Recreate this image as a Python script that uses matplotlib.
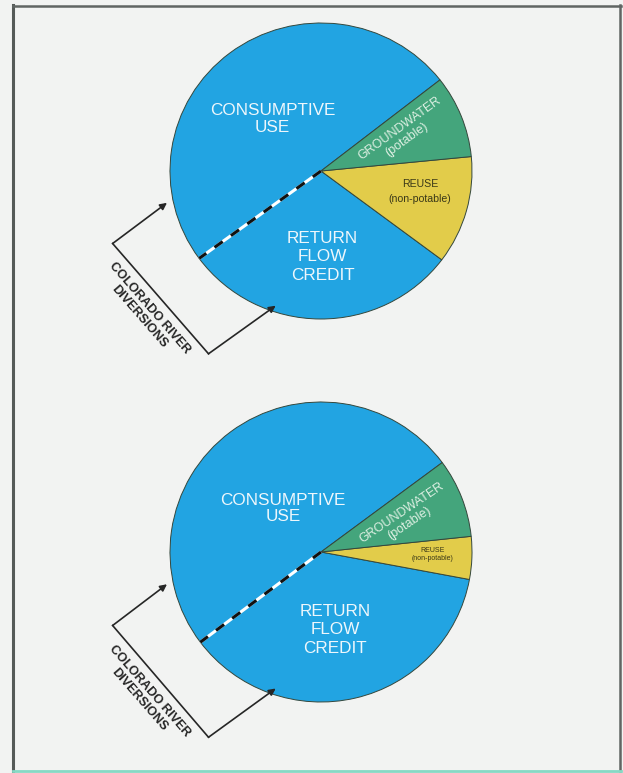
import matplotlib
matplotlib.use("Agg")
import numpy as np
import matplotlib.pyplot as plt
from matplotlib.lines import Line2D

plt.rcParams["font.family"] = ["Liberation Sans", "DejaVu Sans"]

# wedge order: consumptive use, return flow credit, reuse, groundwater
labels = ["CONSUMPTIVE\nUSE", "RETURN\nFLOW\nCREDIT", "REUSE\n(non-potable)", "GROUNDWATER\n(potable)"]
top_shares = [49.5, 29.7, 11.8, 9.0]
bottom_shares = [50.1, 36.8, 4.6, 8.5]
wedge_colors = ["#22a4e2", "#22a4e2", "#e2cc4a", "#44a57c"]
diversion_label = "COLORADO RIVER\nDIVERSIONS"

W, H = 623, 773
BG = "#f2f3f2"
EDGE = "#34473c"
INK = "#262626"

fig = plt.figure(figsize=(W / 100, H / 100), dpi=100, facecolor=BG)


def draw_pie(shares, y0, y1, cx, cy, rx, ry, startangle, text_pos, reuse_size, reuse_gap, gw_rot):
    # one axes per pie; 1 data unit == rx px across, ry px down
    ax = fig.add_axes([0, 1 - y1 / H, 1, (y1 - y0) / H])
    wedges, _ = ax.pie(shares, colors=wedge_colors, startangle=startangle,
                       counterclock=True, radius=1.0,
                       wedgeprops=dict(edgecolor=EDGE, linewidth=0.7))
    ax.set_xlim(-cx / rx, (W - cx) / rx)
    ax.set_ylim((cy - y1) / ry, (cy - y0) / ry)
    ax.set_aspect("auto")
    ax.axis("off")

    # dashed split between consumptive use and return flow
    th = np.deg2rad(wedges[1].theta1)
    xs, ys = [0, np.cos(th)], [0, np.sin(th)]
    ax.plot(xs, ys, color="white", lw=2.2, solid_capstyle="butt", zorder=5)
    ax.plot(xs, ys, color="#111111", lw=2.2, dashes=(3.3, 3.3), dash_capstyle="butt", zorder=6)

    (cu, rf, ru, gw) = text_pos
    ax.text(*cu, labels[0], ha="center", va="center", multialignment="center",
            color="#eef7fc", fontsize=12.3, linespacing=1.15, zorder=7)
    ax.text(*rf, labels[1], ha="center", va="center", multialignment="center",
            color="#eef7fc", fontsize=12.3, linespacing=1.27, zorder=7)
    ax.text(*ru, labels[2], ha="center", va="center", multialignment="center",
            color="#3a3818", fontsize=reuse_size, linespacing=reuse_gap, zorder=7)
    ax.text(*gw, labels[3], ha="center", va="center", multialignment="center",
            color="#dcefe2", fontsize=9, linespacing=1.1, rotation=gw_rot,
            rotation_mode="anchor", zorder=7)

    # bracket with arrows pointing at the diversions
    tip1, ca, cb, tip2 = (-1.02, -0.215), (-1.38, -0.49), (-0.745, -1.235), (-0.30, -0.91)
    ax.plot([ca[0], cb[0]], [ca[1], cb[1]], color=INK, lw=1.2)
    for tip, base in ((tip1, ca), (tip2, cb)):
        ax.annotate("", xy=tip, xytext=base,
                    arrowprops=dict(arrowstyle="-|>", color=INK, lw=1.2,
                                    mutation_scale=10, shrinkA=0, shrinkB=0))
    ax.text(-1.17, -0.955, diversion_label, ha="center", va="center",
            multialignment="center", rotation=-49, rotation_mode="anchor",
            color=INK, fontsize=9.2, fontweight="bold", linespacing=1.15)
    return ax


draw_pie(top_shares, 0, 386, 321, 171, 151, 148, 38,
         [(-0.32, 0.35), (0.01, -0.58), (0.655, -0.14), (0.545, 0.25)], 7.6, 1.6, 36)
draw_pie(bottom_shares, 386, 773, 321, 552, 151, 150, 36.6,
         [(-0.25, 0.29), (0.095, -0.52), (0.74, -0.015), (0.56, 0.225)], 5.0, 1.25, 34)

# page frame
fx = lambda px: px / W
fy = lambda py: 1 - py / H
frame = [
    ([fx(13.5), fx(13.5)], [fy(5), fy(771)], "#555a58", 2.2),
    ([fx(12.5), fx(621)], [fy(6), fy(6)], "#606563", 1.8),
    ([fx(620), fx(620)], [fy(5), fy(771)], "#606563", 1.8),
    ([fx(13), fx(621)], [fy(770.5), fy(770.5)], "#86d9c4", 2.0),
]
for xs, ys, c, lw in frame:
    fig.add_artist(Line2D(xs, ys, transform=fig.transFigure, color=c, lw=lw))

fig.savefig("out.png", dpi=100, facecolor=BG)
